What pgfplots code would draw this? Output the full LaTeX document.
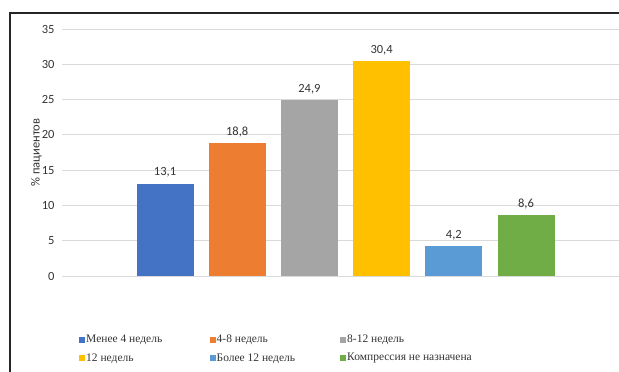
\documentclass[border=0pt]{standalone}
\usepackage{pgfplots}
\pgfplotsset{compat=1.18}
\usepackage{fontspec}
\setmainfont{Liberation Serif}
\newfontfamily\calfont{Carlito}
\newfontfamily\timesfont{Liberation Serif}
\newcommand{\legtxt}[1]{\makebox[122.5pt][l]{\timesfont\fontsize{11.5}{14}\selectfont #1}}
\definecolor{c1}{HTML}{4472C4}
\definecolor{c2}{HTML}{ED7D31}
\definecolor{c3}{HTML}{A5A5A5}
\definecolor{c4}{HTML}{FFC000}
\definecolor{c5}{HTML}{5B9BD5}
\definecolor{c6}{HTML}{70AD47}
\begin{document}
\begin{tikzpicture}[x=1pt,y=1pt]
\useasboundingbox (0,0) rectangle (619,372);
\begin{axis}[
  at={(62pt,96pt)}, anchor=south west,
  scale only axis, width=557pt, height=247pt,
  xmin=-1.427, xmax=6.288, ymin=0, ymax=35,
  ytick={0,5,...,35},
  xtick=\empty,
  axis line style={draw=none},
  major tick length=0pt,
  ymajorgrids, grid style={draw=black!15, line width=0.8pt},
  /pgf/number format/assume math mode=true,
  yticklabel style={font=\calfont\fontsize{12.5}{14}\selectfont, color=black!80, xshift=-4pt},
  ylabel={\calfont\fontsize{12.5}{14}\selectfont \% пациентов},
  ylabel style={at={(axis description cs:-0.03,0.5)}, anchor=south, color=black!80},
  ybar, bar width=57pt, bar shift=0pt,
  clip=false,
  nodes near coords={\pgfmathprintnumber[fixed,fixed zerofill,precision=1,use comma]{\pgfplotspointmeta}},
  every node near coord/.append style={font=\calfont\fontsize{12.5}{14}\selectfont, color=black!80, yshift=3pt},
  legend columns=3,
  legend style={at={(axis description cs:0.0305,-0.235)}, anchor=north west, draw=none, fill=none,
    inner sep=0pt, row sep=7pt, text=black!80, nodes={inner sep=1pt}},
  legend cell align=left,
  legend image code/.code={\fill[#1] (0pt,-3pt) rectangle (6pt,3pt);},
]
\addplot[fill=c1, draw=none] coordinates {(0,13.1)};
\addlegendentry{\legtxt{Менее 4 недель}}
\addplot[fill=c2, draw=none] coordinates {(1,18.8)};
\addlegendentry{\legtxt{4-8 недель}}
\addplot[fill=c3, draw=none] coordinates {(2,24.9)};
\addlegendentry{\legtxt{8-12 недель}}
\addplot[fill=c4, draw=none] coordinates {(3,30.4)};
\addlegendentry{\legtxt{12 недель}}
\addplot[fill=c5, draw=none] coordinates {(4,4.2)};
\addlegendentry{\legtxt{Более 12 недель}}
\addplot[fill=c6, draw=none] coordinates {(5,8.6)};
\addlegendentry{\legtxt{Компрессия не назначена}}
\end{axis}
\draw[line width=2pt, black!85] (10,-20) -- (10,359) -- (640,359);
\end{tikzpicture}
\end{document}
